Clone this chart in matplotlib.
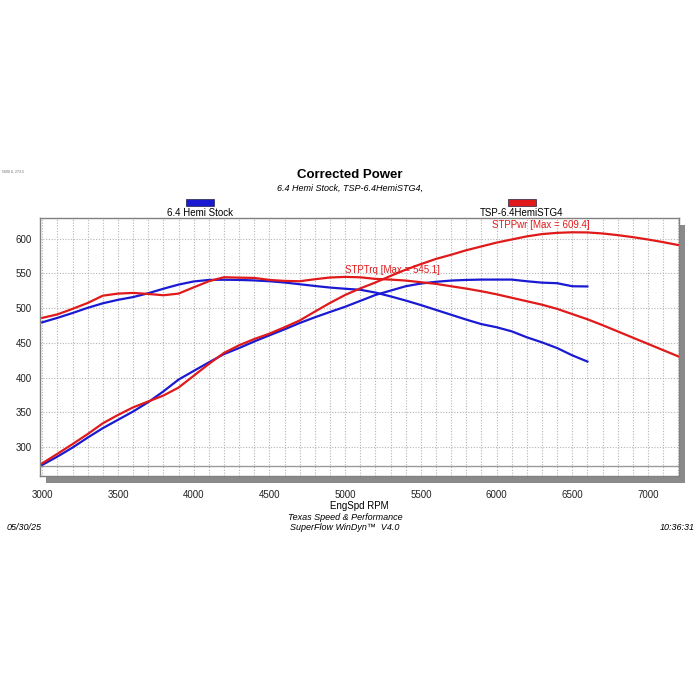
"""Dyno sheet: corrected power / torque, stock vs TSP stage 4."""

import matplotlib

matplotlib.use("Agg")
import matplotlib.pyplot as plt  # noqa: E402
from matplotlib.patches import Rectangle  # noqa: E402

plt.rcParams["font.family"] = ["Liberation Sans", "DejaVu Sans"]

# --- data --------------------------------------------------------------
stock_rpm = list(range(3000, 6601, 100))
stock_trq = [479.6, 486, 493, 500.5, 507, 512, 516, 521.5, 528, 534,
             538.5, 540.7, 541, 540.7, 540, 538.8, 537, 534.5, 532, 529.7,
             528, 526.5, 522.5, 517, 511, 504.5, 497.5, 490.5, 483.5, 477,
             472.5, 466.6, 458, 450.7, 442.5, 432, 423]
stock_hp = [274, 286, 299, 313.4, 327, 339, 351, 364.5, 380, 397,
            409.5, 421.8, 433.8, 442.5, 452, 460.8, 469.5, 478.6, 486.8, 494.5,
            502, 510.5, 519, 525.3, 531.6, 535.5, 538, 539.8, 540.7, 541.2,
            541.2, 541.2, 538.8, 536.8, 536, 531.6, 531.3]

stg4_rpm = list(range(3000, 7201, 100)) + [7220]
stg4_trq = [486, 491, 499, 507.5, 518, 521, 522, 520.5, 518.6, 521,
            530, 538.8, 544.6, 544, 543.6, 540.7, 539.3, 538.8, 541.7, 544.2,
            545.1, 544.5, 542.2, 541.2, 539.8, 537.4, 535, 531.6, 528.2, 524.4,
            520, 515, 510, 505, 499, 491.5, 484, 475.5, 466.5, 457.5,
            448.5, 439.5, 430.5, 428.5]
stg4_hp = [276.3, 290, 304, 318.5, 334, 346, 357, 365.5, 374, 385.5,
           402.5, 419.5, 435.5, 446.5, 455.5, 463.2, 472.5, 482.2, 495, 507.5,
           519, 528.5, 537, 546.5, 555.5, 563.5, 571, 577, 583.5, 589,
           594.5, 599, 603.5, 606.8, 608.6, 609.4, 609.2, 607.7, 605.3, 602.4,
           599, 595.2, 591, 590]

run_names = ["6.4 Hemi Stock", "TSP-6.4HemiSTG4"]
x_ticks = list(range(3000, 7001, 500))
y_ticks = list(range(300, 601, 50))

BLUE = "#1a1ad2"
RED = "#e01a1a"
GRID = "#b4b4b4"
FRAME = "#808080"

fig = plt.figure(figsize=(7, 7), dpi=100)
ax_l, ax_b, ax_w, ax_h = 40 / 700, 1 - 476 / 700, 639 / 700, 258 / 700
ax = fig.add_axes([ax_l, ax_b, ax_w, ax_h], zorder=2)

# drop shadow behind the plot frame
fig.patches.append(Rectangle((ax_l + 6 / 700, ax_b - 7 / 700), ax_w, ax_h,
                             transform=fig.transFigure, facecolor="#8a8a8a",
                             edgecolor="none", zorder=0))

ax.set_xlim(2985, 7205)
ax.set_ylim(258, 630)
ax.set_xticks(x_ticks)
ax.set_yticks(y_ticks)
ax.set_xticks(range(3000, 7201, 100), minor=True)
ax.tick_params(which="both", length=0, labelsize=7, colors="#222222")
ax.tick_params(axis="x", pad=10)
ax.tick_params(axis="y", pad=6)
ax.grid(which="both", axis="x", color=GRID, lw=0.8, ls=(0, (1, 1.5)))
ax.grid(which="major", axis="y", color=GRID, lw=0.8, ls=(0, (1, 1.5)))
ax.axhline(273, color="#9a9a9a", lw=1.0, zorder=1)
for s in ax.spines.values():
    s.set_color(FRAME)
    s.set_linewidth(1.0)

ax.plot(stock_rpm, stock_trq, color=BLUE, lw=1.6, zorder=3)
ax.plot(stock_rpm, stock_hp, color=BLUE, lw=1.6, zorder=3)
ax.plot(stg4_rpm, stg4_trq, color=RED, lw=1.6, zorder=4)
ax.plot(stg4_rpm, stg4_hp, color=RED, lw=1.6, zorder=4)

ax.text(5000, 547.5, f"STPTrq [Max = {max(stg4_trq):.1f}]", color=RED,
        fontsize=7, ha="left", va="bottom", zorder=5)
ax.text(5970, 612, f"STPPwr [Max = {max(stg4_hp):.1f}]", color=RED,
        fontsize=7, ha="left", va="bottom", zorder=5)

ax.set_xlabel("EngSpd RPM", fontsize=7, labelpad=1)

# header
fig.text(0.003, 1 - 172 / 700, "5000.0, 273.5", fontsize=2.5, color="#666666",
         va="center")
fig.text(0.5, 1 - 175 / 700, "Corrected Power", fontsize=9.5, weight="bold",
         ha="center", va="center")
fig.text(0.5, 1 - 188 / 700, ", ".join(run_names) + ",", fontsize=6.5,
         style="italic", ha="center", va="center")

# legend swatches
for cx, name, col in [(200, run_names[0], BLUE), (522, run_names[1], RED)]:
    fig.patches.append(Rectangle(((cx - 14) / 700, 1 - 206 / 700), 28 / 700,
                                 7 / 700, transform=fig.transFigure,
                                 facecolor=col, edgecolor="#222244", lw=0.5))
    fig.text(cx / 700, 1 - 213 / 700, name, fontsize=7, ha="center",
             va="center")

# footer
fig.text(345 / 700, 1 - 517 / 700, "Texas Speed & Performance", fontsize=6.5,
         style="italic", ha="center", va="center")
fig.text(345 / 700, 1 - 528 / 700, "SuperFlow WinDyn\u2122  V4.0", fontsize=6.5,
         style="italic", ha="center", va="center")
fig.text(7 / 700, 1 - 528 / 700, "05/30/25", fontsize=6.5, style="italic",
         ha="left", va="center")
fig.text(695 / 700, 1 - 528 / 700, "10:36:31", fontsize=6.5, style="italic",
         ha="right", va="center")

fig.savefig("out.png", dpi=100, facecolor="white")
